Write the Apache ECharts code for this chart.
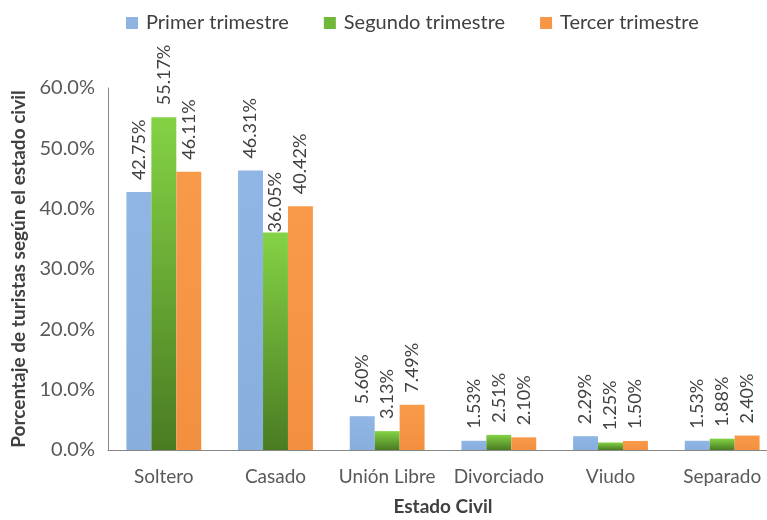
<!DOCTYPE html>
<html>
<head>
<meta charset="utf-8">
<script src="https://cdn.jsdelivr.net/npm/echarts@6/dist/echarts.min.js"></script>
<style>
  html, body { margin: 0; padding: 0; background: #fff; }
  #chart { width: 767px; height: 520px; }
</style>
</head>
<body>
<div id="chart"></div>
<script>
// Estado civil de los turistas por trimestre (%)
const categories = ['Soltero', 'Casado', 'Unión Libre', 'Divorciado', 'Viudo', 'Separado'];
const seriesNames = ['Primer trimestre', 'Segundo trimestre', 'Tercer trimestre'];
const primerTrimestre = [42.75, 46.31, 5.60, 1.53, 2.29, 1.53];
const segundoTrimestre = [55.17, 36.05, 3.13, 2.51, 1.25, 1.88];
const tercerTrimestre = [46.11, 40.42, 7.49, 2.10, 1.50, 2.40];
const yTicks = [0, 10, 20, 30, 40, 50, 60];

const FONT = 'Lato';
const TEXT = '#595959';

function grad(top, bottom) {
  return new echarts.graphic.LinearGradient(0, 0, 0, 1, [
    { offset: 0, color: top },
    { offset: 1, color: bottom }
  ]);
}

const colors = [
  grad('#8fb6e4', '#87aedc'),
  grad('#84d345', '#4a7b22'),
  grad('#f89a4a', '#f39040')
];
const legendColors = ['#8fb4e2', '#6fb83a', '#f79646'];

// the Casado / Segundo trimestre label sits right on its bar
const tightLabels = { '1-1': 0 };

function makeSeries(name, values, i) {
  return {
    name: name,
    type: 'bar',
    data: values.map((v, j) => {
      const key = i + '-' + j;
      return key in tightLabels ? { value: v, label: { distance: tightLabels[key] } } : v;
    }),
    barGap: '0%',
    barCategoryGap: '33%',
    itemStyle: { color: colors[i] },
    label: {
      show: true,
      position: 'top',
      rotate: 90,
      align: 'left',
      verticalAlign: 'middle',
      distance: 12,
      fontFamily: FONT,
      fontSize: 18,
      color: '#404040',
      formatter: p => p.value.toFixed(2) + '%'
    }
  };
}

const chart = echarts.init(document.getElementById('chart'));
chart.setOption({
  animation: false,
  color: legendColors,
  legend: {
    top: 8,
    left: 121,
    itemWidth: 12,
    itemHeight: 12,
    itemGap: 35,
    icon: 'rect',
    textStyle: { fontFamily: FONT, fontSize: 20, color: '#404040', padding: [0, 0, 0, 3] },
    data: seriesNames.map((n, i) => ({ name: n, itemStyle: { color: legendColors[i] } }))
  },
  grid: { left: 108, right: -11, top: 88, bottom: 70, outerBoundsMode: 'none', containLabel: false },
  xAxis: {
    type: 'category',
    data: categories,
    name: 'Estado Civil',
    nameLocation: 'middle',
    nameGap: 47,
    nameTextStyle: { fontFamily: FONT, fontSize: 19, fontWeight: 'bold', color: '#404040' },
    axisLine: { lineStyle: { color: '#868686', width: 1 } },
    axisTick: { show: false },
    axisLabel: { interval: 0, fontFamily: FONT, fontSize: 19, color: TEXT, margin: 17 }
  },
  yAxis: {
    type: 'value',
    min: yTicks[0],
    max: yTicks[yTicks.length - 1],
    interval: 10,
    name: 'Porcentaje de turistas según el estado civil',
    nameLocation: 'middle',
    nameGap: 73,
    nameTextStyle: { fontFamily: FONT, fontSize: 19, fontWeight: 'bold', color: '#404040' },
    axisLine: { show: true, lineStyle: { color: '#868686', width: 1 } },
    axisTick: { show: false },
    splitLine: { show: false },
    axisLabel: {
      fontFamily: FONT, fontSize: 20, color: TEXT, margin: 13,
      formatter: v => v.toFixed(1) + '%'
    }
  },
  series: [
    makeSeries(seriesNames[0], primerTrimestre, 0),
    makeSeries(seriesNames[1], segundoTrimestre, 1),
    makeSeries(seriesNames[2], tercerTrimestre, 2)
  ]
});
</script>
</body>
</html>
